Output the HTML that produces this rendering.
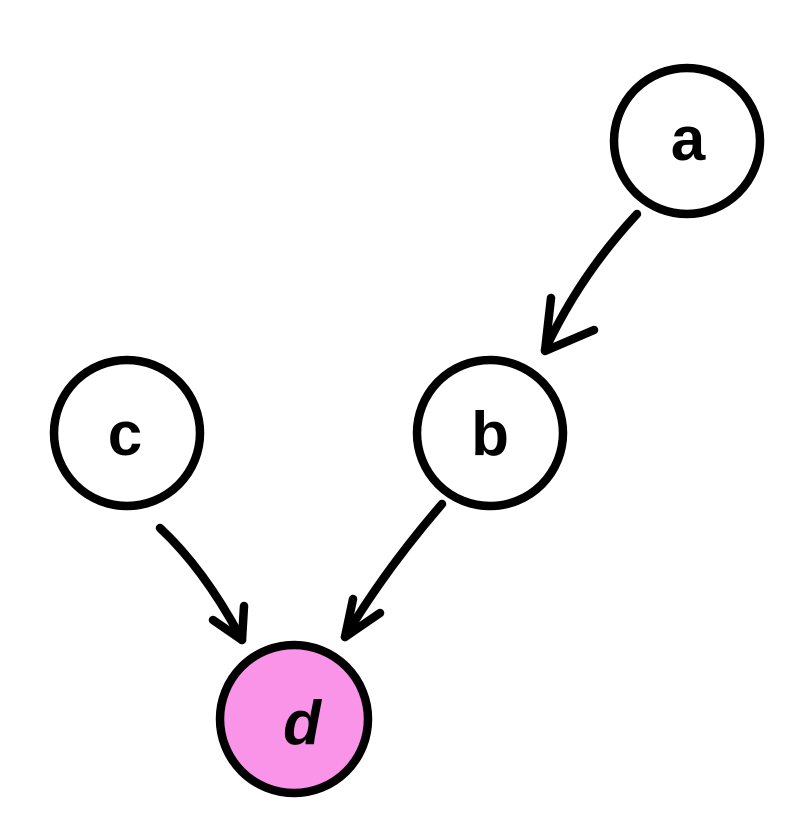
<!DOCTYPE html>
<html><head><style>html,body{margin:0;padding:0;background:#fff}svg{display:block}</style></head>
<body>
<svg width="796" height="822" viewBox="0 0 796 822" xmlns="http://www.w3.org/2000/svg">
<g fill="none" stroke="#000" stroke-width="8.5" stroke-linecap="round" stroke-linejoin="round">
<circle cx="687" cy="141" r="73" fill="#fff"/>
<circle cx="127" cy="433" r="73" fill="#fff"/>
<circle cx="490" cy="433" r="73" fill="#fff"/>
<circle cx="294" cy="719" r="74" fill="#f994e8"/>
<path d="M637 214 Q580 275 545 350"/>
<path d="M551 298 L545 351 L594 330"/>
<path d="M442 504 Q385 570 345 637"/>
<path d="M353 599 L345 637 L380 613"/>
<path d="M160 528 Q205 570 242 640"/>
<path d="M213 620 L242 640 L244 606"/>
</g>
<g font-family="'Liberation Sans', sans-serif" font-weight="bold" font-size="62" text-anchor="middle" fill="#000">
<text x="688" y="160">a</text>
<text x="125" y="455">c</text>
<text x="490" y="455">b</text>
<text x="302" y="744" font-style="italic">d</text>
</g>
</svg>
</body></html>
